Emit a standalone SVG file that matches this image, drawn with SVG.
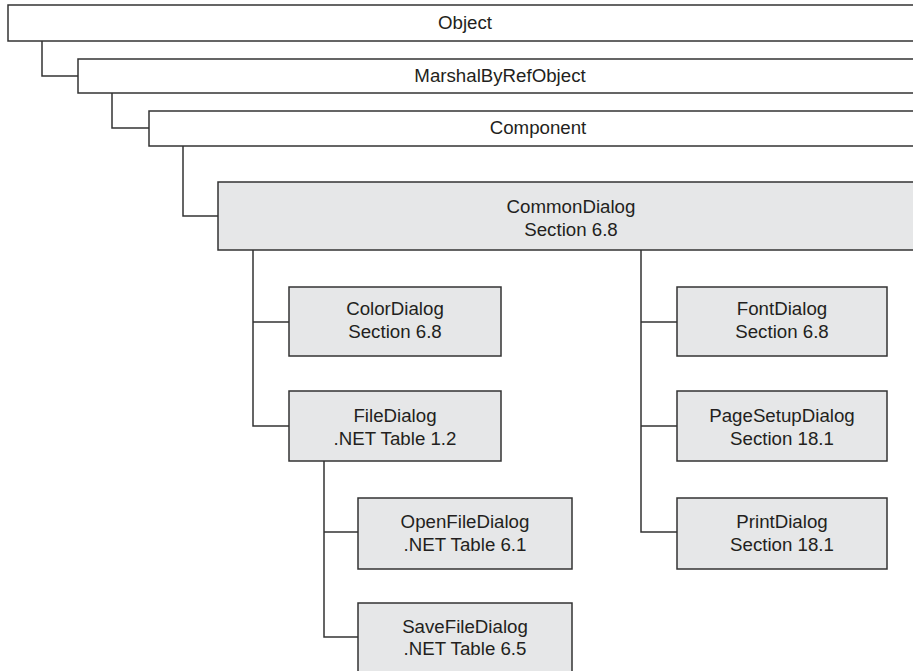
<svg xmlns="http://www.w3.org/2000/svg" width="913" height="671" viewBox="0 0 913 671">
<style>
.box{stroke:#333;stroke-width:1.5}
.w{fill:#fff}
.g{fill:#e6e7e8}
text{font-family:"Liberation Sans",Arial,sans-serif;font-size:18.7px;fill:#231f20;text-anchor:middle}
.conn path{fill:none;stroke:#333;stroke-width:1.5}
</style>
<rect width="913" height="671" fill="#fff"/>
<g class="conn" id="connectors">
<path d="M42,41 V76 H78"/>
<path d="M112,93 V128 H149"/>
<path d="M183,146 V216 H218"/>
<path d="M253,250 V426 H289 M253,322 H289"/>
<path d="M324,461 V637 H358 M324,532 H358"/>
<path d="M641,250 V532 H677 M641,322 H677 M641,426 H677"/>
</g>
<g id="object"><rect class="box w" x="8" y="5" width="915" height="36"/><text x="465" y="29">Object</text></g>
<g id="marshal"><rect class="box w" x="78" y="59" width="845" height="34"/><text x="500" y="82">MarshalByRefObject</text></g>
<g id="component"><rect class="box w" x="149" y="111" width="775" height="35"/><text x="538" y="134">Component</text></g>
<g id="commondialog"><rect class="box g" x="218" y="182" width="706" height="68"/><text x="571" y="213">CommonDialog</text><text x="571" y="236">Section 6.8</text></g>
<g id="colordialog"><rect class="box g" x="289" y="287" width="212" height="69"/><text x="395" y="315">ColorDialog</text><text x="395" y="338">Section 6.8</text></g>
<g id="filedialog"><rect class="box g" x="289" y="391" width="212" height="70"/><text x="395" y="422">FileDialog</text><text x="395" y="445">.NET Table 1.2</text></g>
<g id="openfiledialog"><rect class="box g" x="358" y="498" width="214" height="71"/><text x="465" y="528">OpenFileDialog</text><text x="465" y="551">.NET Table 6.1</text></g>
<g id="savefiledialog"><rect class="box g" x="358" y="603" width="214" height="80"/><text x="465" y="633">SaveFileDialog</text><text x="465" y="655">.NET Table 6.5</text></g>
<g id="fontdialog"><rect class="box g" x="677" y="287" width="210" height="69"/><text x="782" y="315">FontDialog</text><text x="782" y="338">Section 6.8</text></g>
<g id="pagesetupdialog"><rect class="box g" x="677" y="391" width="210" height="70"/><text x="782" y="422">PageSetupDialog</text><text x="782" y="445">Section 18.1</text></g>
<g id="printdialog"><rect class="box g" x="677" y="498" width="210" height="71"/><text x="782" y="528">PrintDialog</text><text x="782" y="551">Section 18.1</text></g>
</svg>
